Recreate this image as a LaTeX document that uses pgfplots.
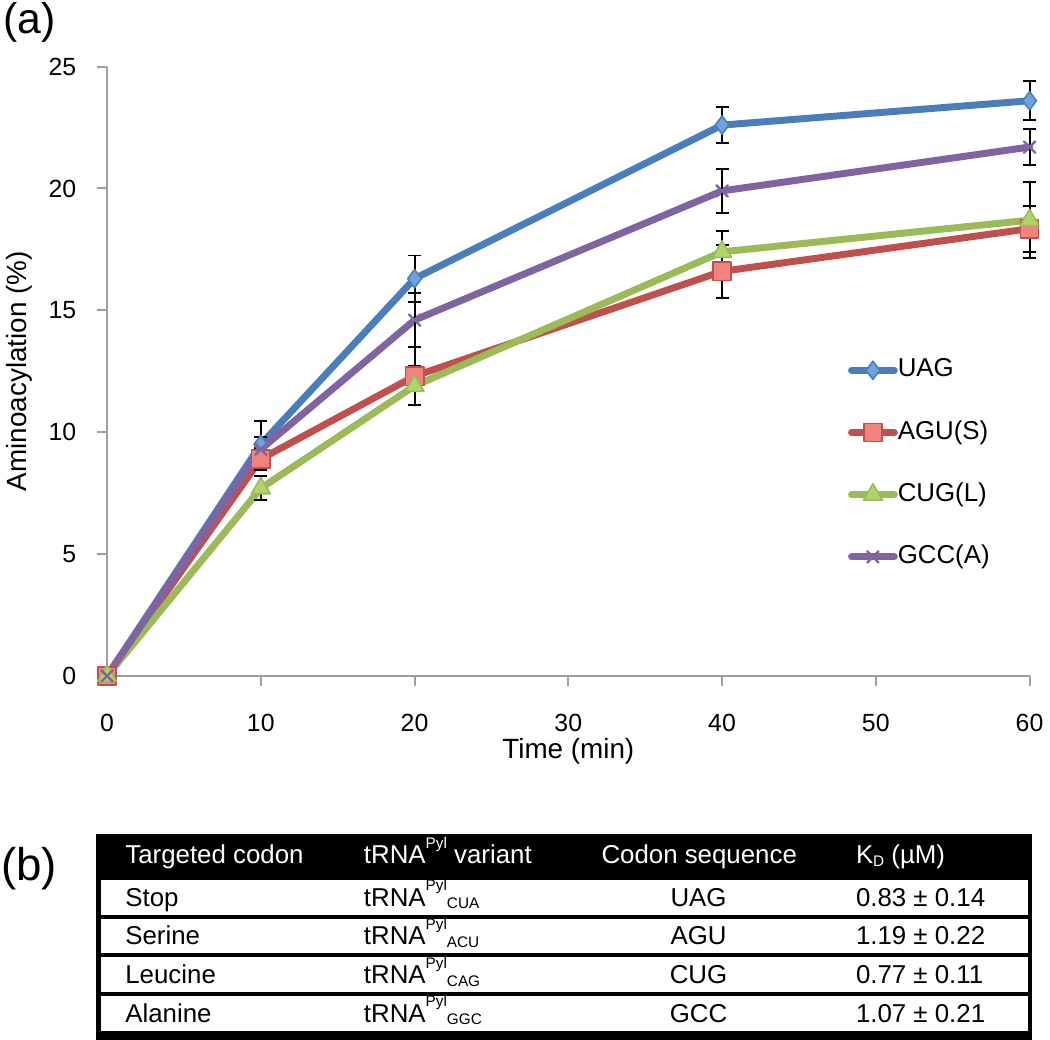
\documentclass[border=0pt]{standalone}
\usepackage{pgfplots}
\pgfplotsset{compat=1.18}
\usepackage{fontspec}
\setmainfont{Liberation Sans}
\definecolor{cBlue}{RGB}{74,126,187}
\definecolor{cBlueF}{RGB}{110,162,222}
\definecolor{cRed}{RGB}{192,80,77}
\definecolor{cRedF}{RGB}{242,130,125}
\definecolor{cGreen}{RGB}{155,187,89}
\definecolor{cGreenF}{RGB}{175,212,105}
\definecolor{cPurple}{RGB}{128,100,162}
\definecolor{axgray}{RGB}{160,160,160}
\pgfplotstableread{
x y e
0 0 0
10 9.5 0.95
20 16.3 0.95
40 22.6 0.75
60 23.6 0.8
}\tUAG
\pgfplotstableread{
x y e
0 0 0
10 8.9 0.45
20 12.3 1.2
40 16.6 1.1
60 18.35 0.95
}\tAGU
\pgfplotstableread{
x y e
0 0 0
10 7.7 0.5
20 11.9 0.8
40 17.4 0.85
60 18.7 1.55
}\tCUG
\pgfplotstableread{
x y e
0 0 0
10 9.3 0.5
20 14.6 1.1
40 19.9 0.9
60 21.7 0.75
}\tGCC
\begin{document}
\begin{tikzpicture}
\begin{scope}[x=0.5pt, y=-0.5pt, shift={(-105,-680)}]
\useasboundingbox (0,0) rectangle (1050,1046);
\node[inner sep=0pt, anchor=center, font=\fontsize{21.5}{24}\selectfont] at (27,23) {(a)};
\node[inner sep=0pt, anchor=center, font=\fontsize{23}{26}\selectfont] at (26.5,873.5) {(b)};
% table
\fill[black] (94,839) rectangle (1035,1046);
\foreach \t in {885,924,963,1002} {
  \fill[white] (99,\t) rectangle (1031,\t+35);
}
\begin{scope}[every node/.style={inner sep=0pt, font=\fontsize{13}{15.6}\selectfont}]
\newcommand{\trna}[1]{tRNA\raisebox{7.8pt}{\fontsize{7.7}{8}\selectfont Pyl}\raisebox{-1.2pt}{\fontsize{7.7}{8}\selectfont #1}}
\node[anchor=base west, text=white] at (123,869) {Targeted codon};
\node[anchor=base west, text=white] at (363,869) {tRNA\raisebox{7.8pt}{\fontsize{7.7}{8}\selectfont Pyl} variant};
\node[anchor=base west, text=white] at (602,869) {Codon sequence};
\node[anchor=base west, text=white] at (858,869) {K\raisebox{-1.2pt}{\fontsize{7.7}{8}\selectfont D} (µM)};
\node[anchor=base west] at (123,911.5) {Stop};
\node[anchor=base west] at (363,911.5) {\trna{CUA}};
\node[anchor=base] at (700,911.5) {UAG};
\node[anchor=base west] at (858,911.5) {0.83 ± 0.14};
\node[anchor=base west] at (123,950.5) {Serine};
\node[anchor=base west] at (363,950.5) {\trna{ACU}};
\node[anchor=base] at (700,950.5) {AGU};
\node[anchor=base west] at (858,950.5) {1.19 ± 0.22};
\node[anchor=base west] at (123,989.5) {Leucine};
\node[anchor=base west] at (363,989.5) {\trna{CAG}};
\node[anchor=base] at (700,989.5) {CUG};
\node[anchor=base west] at (858,989.5) {0.77 ± 0.11};
\node[anchor=base west] at (123,1028.5) {Alanine};
\node[anchor=base west] at (363,1028.5) {\trna{GGC}};
\node[anchor=base] at (700,1028.5) {GCC};
\node[anchor=base west] at (858,1028.5) {1.07 ± 0.21};
\end{scope}
\end{scope}
\begin{axis}[
  at={(0pt,0pt)}, anchor=south west,
  scale only axis, width=464pt, height=306.5pt,
  xmin=0, xmax=60, ymin=0, ymax=25,
  axis x line*=bottom, axis y line*=left,
  axis line style={draw=axgray, line width=1pt, -},
  xtick={0,10,...,60}, ytick={0,5,...,25},
  tick align=outside, major tick length=5pt,
  tick style={draw=axgray, line width=1pt},
  ticklabel style={font=\fontsize{12.5}{15}\selectfont, text=black},
  xticklabel style={yshift=-10.5pt},
  yticklabel style={xshift=-7pt},
  /pgf/number format/assume math mode=true,
  clip=false,
  xlabel={Time (min)}, ylabel={Aminoacylation (\%)},
  every axis x label/.style={at={(axis description cs:0.5,0)}, anchor=center, yshift=-38pt, font=\fontsize{14}{16}\selectfont},
  every axis y label/.style={at={(axis description cs:0,0.5)}, anchor=center, rotate=90, yshift=44pt, font=\fontsize{14}{16}\selectfont},
  legend style={at={(axis cs:48.17,13.13)}, anchor=north west, draw=none, fill=none, inner sep=0pt,
    row sep=17.3pt, font=\fontsize{13}{15}\selectfont, nodes={inner ysep=1pt, inner xsep=0pt, text height=9.3pt, text depth=2.7pt}},
  legend cell align=left,
  legend image code/.code={\draw[mark repeat=2,mark phase=2] plot coordinates {(0pt,0pt) (10.75pt,0pt) (21.5pt,0pt)};},
  every axis plot/.append style={line width=3.5pt, line join=round, line cap=round},
  error bars/error bar style={black, line width=1pt},
  error bars/error mark options={black, line width=1pt, mark size=3.25pt, rotate=90},
]
\addplot[cBlue, mark=diamond*, mark size=4.6pt, mark options={fill=cBlueF, draw=cBlue, line width=0.8pt},
  error bars/.cd, y dir=both, y explicit] table[x=x, y=y, y error=e] {\tUAG};
\addlegendentry{UAG}
\addplot[cRed, mark=square*, mark size=4.6pt, mark options={fill=cRedF, draw=cRed, line width=0.8pt},
  error bars/.cd, y dir=both, y explicit] table[x=x, y=y, y error=e] {\tAGU};
\addlegendentry{AGU(S)}
\addplot[cGreen, mark=triangle*, mark size=5.5pt, mark options={fill=cGreenF, draw=cGreen, line width=0.8pt},
  error bars/.cd, y dir=both, y explicit] table[x=x, y=y, y error=e] {\tCUG};
\addlegendentry{CUG(L)}
\addplot[cPurple, mark=x, mark size=4pt, mark options={draw=cPurple, line width=1.2pt},
  error bars/.cd, y dir=both, y explicit] table[x=x, y=y, y error=e] {\tGCC};
\addlegendentry{GCC(A)}
\end{axis}
\end{tikzpicture}
\end{document}
